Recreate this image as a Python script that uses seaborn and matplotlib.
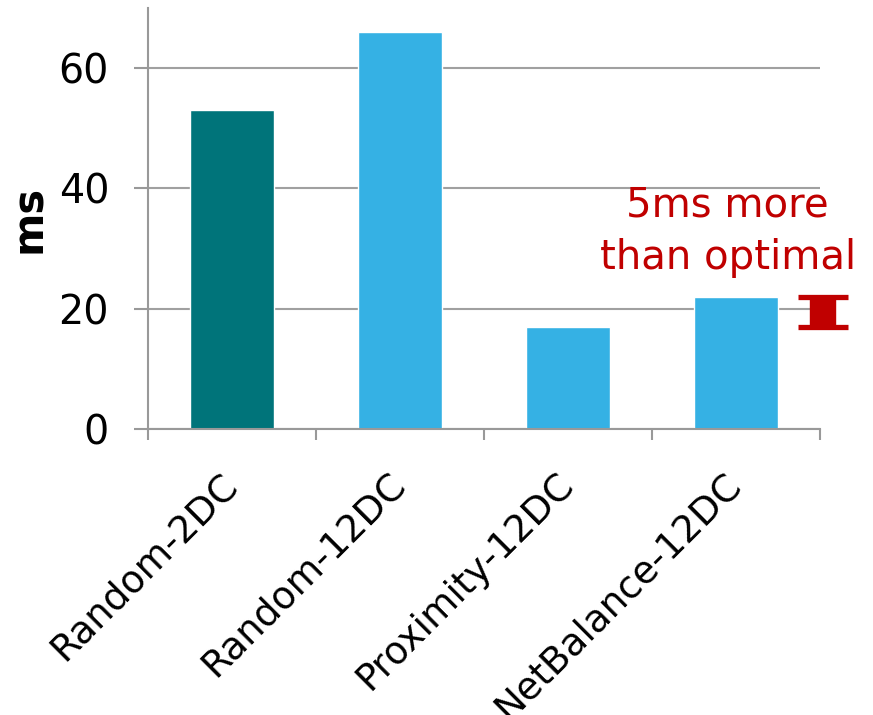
import matplotlib
matplotlib.use("Agg")
import matplotlib.pyplot as plt
import seaborn as sns
import pandas as pd
import numpy as np

categories = ["Random-2DC", "Random-12DC", "Proximity-12DC", "NetBalance-12DC"]
latency_ms = [53, 66, 17, 22]
bar_colors = ["#00747A", "#35B1E4", "#35B1E4", "#35B1E4"]
y_ticks = [0, 20, 40, 60]
y_label = "ms"
note_text = "5ms more\nthan optimal"
optimal_idx = 2
netbalance_idx = 3

sns.set_theme(style="white")
plt.rcParams["font.family"] = ["DejaVu Sans"]

df = pd.DataFrame({"scheme": categories, "ms": latency_ms})

fig = plt.figure(figsize=(8.73, 7.15), dpi=100)
ax = fig.add_axes([148/873, 1-429/715, (820-148)/873, (429-8)/715])

sns.barplot(data=df, x="scheme", y="ms", hue="scheme", palette=bar_colors,
            order=categories, hue_order=categories, dodge=False, width=0.5,
            legend=False, ax=ax, saturation=1)

ax.set_xlim(-0.5, len(categories) - 0.5)
ax.set_ylim(0, 70)
ax.set_yticks(y_ticks)
ax.yaxis.grid(True, color="#A0A0A0", linewidth=1.5)
ax.set_axisbelow(True)

for s in ["top", "right"]:
    ax.spines[s].set_visible(False)
for s in ["left", "bottom"]:
    ax.spines[s].set_color("#999999")
    ax.spines[s].set_linewidth(1.5)

# tick marks between categories
ax.set_xticks(np.arange(-0.5, len(categories)), minor=True)
ax.tick_params(axis="x", which="minor", length=8, width=1.5, color="#999999", direction="out", bottom=True)
ax.tick_params(axis="x", which="major", length=0, pad=36, labelsize=27, labelcolor="black")
ax.tick_params(axis="y", which="major", length=10, width=1.5, color="#999999", direction="out",
               left=True, pad=18, labelsize=28.5, labelcolor="black")
for lab in ax.get_xticklabels():
    lab.set_rotation(45)
    lab.set_ha("right")
    lab.set_va("center")
    lab.set_rotation_mode("anchor")

ax.set_xlabel("")
ax.set_ylabel(y_label, fontsize=30, fontweight="bold", labelpad=6, color="black")

# I-beam showing gap between optimal and NetBalance
lo = latency_ms[optimal_idx]
hi = latency_ms[netbalance_idx]
ax.errorbar([netbalance_idx + 0.52], [(lo + hi) / 2], yerr=[(hi - lo) / 2],
            fmt="none", ecolor="#C00000", elinewidth=19, capsize=18, capthick=3.8,
            clip_on=False, zorder=5)

ax.text(netbalance_idx - 0.05, 32.8, note_text, color="#C00000", fontsize=29,
        ha="center", va="center", linespacing=1.4)

fig.savefig("out.png", dpi=100)
